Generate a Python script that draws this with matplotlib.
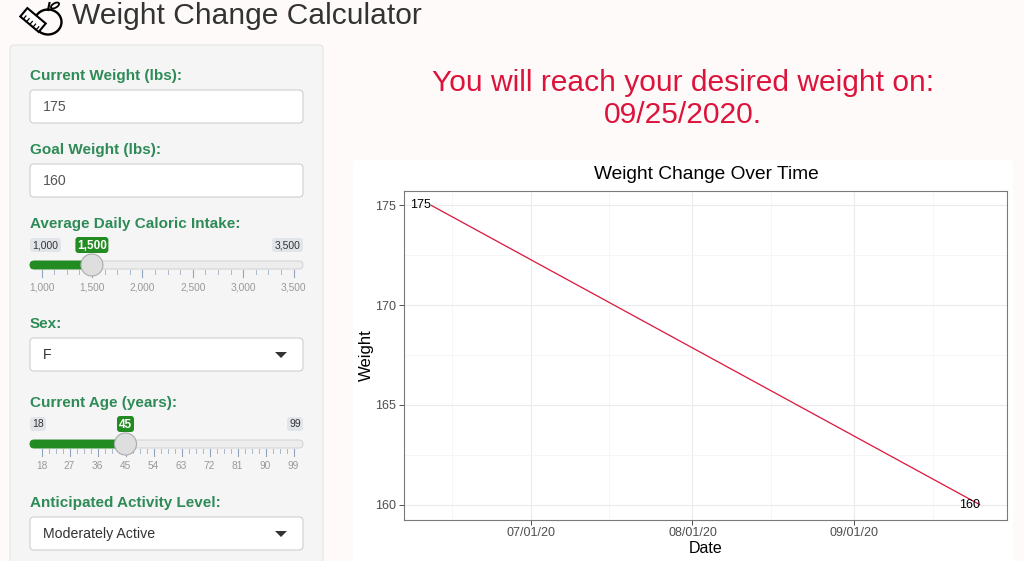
import numpy as np
import matplotlib
matplotlib.use('Agg')
import matplotlib.pyplot as plt
import matplotlib.dates as mdates
from matplotlib.patches import FancyBboxPatch, Circle, Polygon, Ellipse, Rectangle
from matplotlib.ticker import MultipleLocator
from matplotlib.transforms import Affine2D

plt.rcParams['font.family'] = ['Liberation Sans', 'DejaVu Sans']

# chart data
dates = np.array(['2020-06-12', '2020-09-25'], dtype='datetime64[D]')
weights = [175, 160]
goal_date = '09/25/2020'

# sidebar inputs
current_weight = 175
goal_weight = 160
calorie_range = [1000, 3500]
calorie_value = 1500
calorie_ticks = [1000, 1500, 2000, 2500, 3000, 3500]
sex = 'F'
age_range = [18, 99]
age_value = 45
age_ticks = [18, 27, 36, 45, 54, 63, 72, 81, 90, 99]
activity = 'Moderately Active'

W, H = 1024, 561
green_lab = '#2e8b57'
slider_green = '#228B22'
crimson = '#DC143C'

fig = plt.figure(figsize=(W / 100, H / 100), dpi=100, facecolor='#fffafa')

# overlay axes in pixel coordinates for the page
ui = fig.add_axes([0, 0, 1, 1])
ui.set_xlim(0, W)
ui.set_ylim(H, 0)
ui.axis('off')


def rbox(x0, y0, x1, y1, fc, ec, r=4, lw=0.75, z=1):
    ui.add_patch(FancyBboxPatch((x0, y0), x1 - x0, y1 - y0,
                                boxstyle='round,pad=0,rounding_size=%g' % r,
                                fc=fc, ec=ec, lw=lw, zorder=z))


def label(y, text):
    ui.text(30, y + 1, text, fontsize=11, fontweight='bold', color=green_lab,
            va='center', ha='left')


def textbox(y0, text, caret=False):
    rbox(30, y0, 303, y0 + 33, 'white', '#cccccc')
    ui.text(43, y0 + 17, text, fontsize=10.2, color='#555555' if not caret else '#333333',
            va='center', ha='left', zorder=3)
    if caret:
        ui.add_patch(Polygon([[275, y0 + 14], [287, y0 + 14], [281, y0 + 20]],
                             closed=True, fc='#333333', ec='none', zorder=3))


def slider(y0, vmin, vmax, val, ticks, fmt):
    xa, xb = 41.5, 293.5

    def xpos(v):
        return xa + (v - vmin) / (vmax - vmin) * (xb - xa)

    ty = y0 + 28
    # min / max labels, anchored to the track ends
    for v, side in ((vmin, 'left'), (vmax, 'right')):
        s = fmt(v)
        w = 31 if len(s) > 2 else 16
        x0 = 30 if side == 'left' else 303 - w
        rbox(x0, y0 + 1, x0 + w, y0 + 15, '#e1e4e9', 'none', r=3)
        ui.text(x0 + w / 2, y0 + 8, s, fontsize=7.5, color='#333333',
                ha='center', va='center', zorder=4)
    # value label
    hx = xpos(val)
    vw = 16.5 if len(fmt(val)) > 2 else 8.5
    rbox(hx - vw, y0, hx + vw, y0 + 16, slider_green, 'none', r=3)
    ui.text(hx, y0 + 8.5, fmt(val), fontsize=8.5, fontweight='bold', color='white',
            ha='center', va='center', zorder=4)
    # track
    rbox(30, ty - 4, 303, ty + 4, '#ededed', '#cccccc', r=4, lw=0.6)
    rbox(30, ty - 4, hx, ty + 4, slider_green, slider_green, r=4, lw=0.6, z=2)
    # grid ticks
    for i, t in enumerate(ticks):
        x = xpos(t)
        ui.plot([x, x], [ty + 5, ty + 12], color='#8fa5bf', lw=0.8, zorder=2)
        ui.text(x, ty + 22, fmt(t), fontsize=7.3, color='#999999', ha='center', va='center')
        if i < len(ticks) - 1:
            x2 = xpos(ticks[i + 1])
            for k in range(1, 4):
                xm = x + (x2 - x) * k / 4
                ui.plot([xm, xm], [ty + 5, ty + 9], color='#a9bacc', lw=0.7, zorder=2)
    ui.add_patch(Circle((hx, ty), 11, fc='#dedede', ec='#ababab', lw=0.8, zorder=5))


# header
ui.text(72, 16, 'Weight Change Calculator', fontsize=21.6, color='#333333', va='center', ha='left')
# icon: apple with tape measure
ui.add_patch(Ellipse((48, 22), 27, 25, fc='none', ec='black', lw=1.7))
ui.plot([48, 49.5], [10, 3], color='black', lw=1.5)
ui.add_patch(Ellipse((55, 5.5), 9, 4.5, angle=-30, fc='none', ec='black', lw=1.3))
tape_t = Affine2D().rotate_deg(-50).translate(33, 20)
tape = Rectangle((-5.5, -12), 11, 24, fc='white', ec='black', lw=1.5, zorder=3,
                 transform=tape_t + ui.transData)
ui.add_patch(tape)
for k in range(5):
    p0 = tape_t.transform((-5.5, -8 + 4.2 * k))
    p1 = tape_t.transform((-1.5, -8 + 4.2 * k))
    ui.plot([p0[0], p1[0]], [p0[1], p1[1]], color='black', lw=0.9, zorder=4)

# sidebar panel
rbox(10, 45, 323, 600, '#f5f5f5', '#e3e3e3', r=4)
label(75, 'Current Weight (lbs):')
textbox(90, str(current_weight))
label(149, 'Goal Weight (lbs):')
textbox(164, str(goal_weight))
label(223, 'Average Daily Caloric Intake:')
slider(237, calorie_range[0], calorie_range[1], calorie_value, calorie_ticks,
       lambda v: '{:,}'.format(v))
label(323, 'Sex:')
textbox(338, sex, caret=True)
label(402, 'Current Age (years):')
slider(416, age_range[0], age_range[1], age_value, age_ticks, lambda v: str(v))
label(502, 'Anticipated Activity Level:')
textbox(517, activity, caret=True)

# result message
ui.text(683, 83, 'You will reach your desired weight on:', fontsize=21.6, color=crimson,
        ha='center', va='center')
ui.text(683, 115, goal_date + '.', fontsize=21.6, color=crimson, ha='center', va='center')

# plot background
rbox(353, 160, 1013, 600, 'white', 'none', r=4)
ui.text(706, 174, 'Weight Change Over Time', fontsize=13.8, color='black', ha='center', va='center')

# chart axes
left, right, top, bottom = 404, 1007, 190.5, 519.5
ax = fig.add_axes([left / W, 1 - bottom / H, (right - left) / W, (bottom - top) / H])
ax.set_facecolor('white')
x = dates.astype('datetime64[ms]').astype(object)
ax.plot(x, weights, color=crimson, lw=0.9, zorder=3)
for xi, wi in zip(x, weights):
    ax.text(xi, wi, str(wi), ha='right', va='center', fontsize=9, color='black', zorder=4)

span = (dates[-1] - dates[0]).astype(int)
pad = np.timedelta64(int(round(span * 0.05 * 24)), 'h')
ax.set_xlim(dates[0].astype('datetime64[h]') - pad, dates[-1].astype('datetime64[h]') + pad)
wr = max(weights) - min(weights)
ax.set_ylim(min(weights) - 0.05 * wr, max(weights) + 0.05 * wr)

ax.xaxis.set_major_locator(mdates.MonthLocator())
ax.xaxis.set_minor_locator(mdates.MonthLocator(bymonthday=16))
ax.xaxis.set_major_formatter(mdates.DateFormatter('%m/%d/%y'))
ax.yaxis.set_major_locator(MultipleLocator(5))
ax.yaxis.set_minor_locator(MultipleLocator(2.5))
ax.grid(True, which='major', color='#ebebeb', lw=0.8)
ax.grid(True, which='minor', color='#f3f3f3', lw=0.5)
ax.set_axisbelow(True)
ax.tick_params(which='major', length=3.5, width=0.6, color='#333333', labelsize=9,
               labelcolor='#4d4d4d', pad=2)
ax.tick_params(which='minor', length=0)
for s in ax.spines.values():
    s.set_color('#7a7a7a')
    s.set_linewidth(0.8)
ax.set_xlabel('Date', fontsize=11.5, labelpad=1)
ax.set_ylabel('Weight', fontsize=12, labelpad=1)

fig.savefig('out.png', dpi=100, facecolor=fig.get_facecolor())
